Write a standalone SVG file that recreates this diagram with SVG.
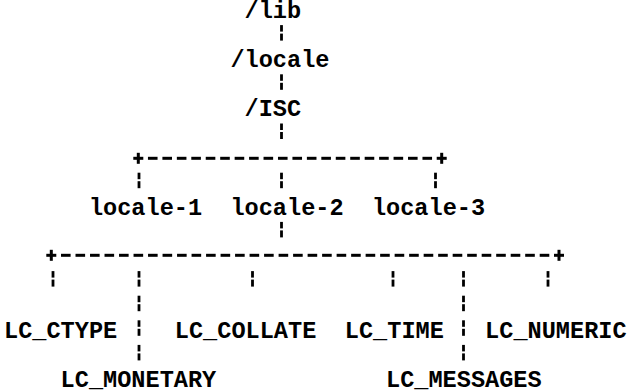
<svg xmlns="http://www.w3.org/2000/svg" width="629" height="390" viewBox="0 0 629 390">
  <style>
    text { font-family: "Liberation Mono", "Courier New", monospace; font-weight: bold; font-size: 23.58px; fill: #000; white-space: pre; }
    .ink { fill: #000; }
  </style>
  <defs>
    <!-- broken vertical bar, origin at the text baseline -->
    <g id="vbar" class="ink">
      <rect x="-1.4" y="-17.5" width="2.8" height="6.5"/>
      <rect x="-1.4" y="-9" width="2.8" height="7"/>
    </g>
    <!-- dash of a horizontal rule, origin at its centre -->
    <rect id="dash" class="ink" x="-4.8" y="-1.5" width="9.6" height="3"/>
    <!-- corner plus, origin at its centre -->
    <g id="plus" class="ink">
      <rect x="-5" y="-1.5" width="10" height="3"/>
      <rect x="-1.5" y="-5.5" width="3" height="11"/>
    </g>
  </defs>
  <rect width="629" height="390" fill="#fff"/>

  <!-- directory nodes -->
  <g id="lib"><text x="244.5" y="18">/lib</text></g>
  <g id="locale"><text x="230.4" y="67.2">/locale</text></g>
  <g id="isc"><text x="244.5" y="116.4">/ISC</text></g>

  <g id="locale-1"><text x="88.9" y="214.8">locale-1</text></g>
  <g id="locale-2"><text x="230.4" y="214.8">locale-2</text></g>
  <g id="locale-3"><text x="371.9" y="214.8">locale-3</text></g>

  <g id="lc-ctype"><text x="4" y="337.8">LC_CTYPE</text></g>
  <g id="lc-collate"><text x="174.8" y="337.8">LC_COLLATE</text></g>
  <g id="lc-time"><text x="344.8" y="337.8">LC_TIME</text></g>
  <g id="lc-numeric"><text x="485.1" y="337.8">LC_NUMERIC</text></g>
  <g id="lc-monetary"><text x="60.6" y="387">LC_MONETARY</text></g>
  <g id="lc-messages"><text x="386" y="387">LC_MESSAGES</text></g>

  <g id="connectors">
    <!-- trunk /lib -> /locale -> /ISC -> split -->
    <use href="#vbar" x="281.5" y="42.6"/>
    <use href="#vbar" x="281.5" y="91.8"/>
    <use href="#vbar" x="281.5" y="141"/>

    <!-- rule over the three locales -->
    <g transform="translate(0,158.3)">
      <use href="#plus" x="138.3"/>
      <use href="#dash" x="152.75"/><use href="#dash" x="167.2"/><use href="#dash" x="181.64"/>
      <use href="#dash" x="196.09"/><use href="#dash" x="210.54"/><use href="#dash" x="224.99"/>
      <use href="#dash" x="239.44"/><use href="#dash" x="253.88"/><use href="#dash" x="268.33"/>
      <use href="#dash" x="282.78"/><use href="#dash" x="297.23"/><use href="#dash" x="311.68"/>
      <use href="#dash" x="326.12"/><use href="#dash" x="340.57"/><use href="#dash" x="355.02"/>
      <use href="#dash" x="369.47"/><use href="#dash" x="383.92"/><use href="#dash" x="398.36"/>
      <use href="#dash" x="412.81"/><use href="#dash" x="427.26"/>
      <use href="#plus" x="441.7"/>
    </g>
    <use href="#vbar" x="139" y="190.2"/>
    <use href="#vbar" x="281.5" y="190.2"/>
    <use href="#vbar" x="435.5" y="190.2"/>

    <!-- locale-2 -> category rule -->
    <use href="#vbar" x="281.5" y="239.4"/>

    <!-- rule over the six categories -->
    <g transform="translate(0,255.3)">
      <use href="#plus" x="51.3"/>
      <use href="#dash" x="65.81"/><use href="#dash" x="80.31"/><use href="#dash" x="94.82"/>
      <use href="#dash" x="109.32"/><use href="#dash" x="123.83"/><use href="#dash" x="138.34"/>
      <use href="#dash" x="152.84"/><use href="#dash" x="167.35"/><use href="#dash" x="181.85"/>
      <use href="#dash" x="196.36"/><use href="#dash" x="210.87"/><use href="#dash" x="225.37"/>
      <use href="#dash" x="239.88"/><use href="#dash" x="254.38"/><use href="#dash" x="268.89"/>
      <use href="#dash" x="283.4"/><use href="#dash" x="297.9"/><use href="#dash" x="312.41"/>
      <use href="#dash" x="326.91"/><use href="#dash" x="341.42"/><use href="#dash" x="355.93"/>
      <use href="#dash" x="370.43"/><use href="#dash" x="384.94"/><use href="#dash" x="399.44"/>
      <use href="#dash" x="413.95"/><use href="#dash" x="428.46"/><use href="#dash" x="442.96"/>
      <use href="#dash" x="457.47"/><use href="#dash" x="471.97"/><use href="#dash" x="486.48"/>
      <use href="#dash" x="500.99"/><use href="#dash" x="515.49"/><use href="#dash" x="530"/>
      <use href="#dash" x="544.5"/>
      <use href="#plus" x="559"/>
    </g>
    <use href="#vbar" x="53" y="288.6"/>
    <use href="#vbar" x="139" y="288.6"/>
    <use href="#vbar" x="252.5" y="288.6"/>
    <use href="#vbar" x="393" y="288.6"/>
    <use href="#vbar" x="463.5" y="288.6"/>
    <use href="#vbar" x="548" y="288.6"/>

    <!-- long drops to LC_MONETARY and LC_MESSAGES -->
    <use href="#vbar" x="139" y="313.2"/>
    <use href="#vbar" x="463.5" y="313.2"/>
    <use href="#vbar" x="139" y="337.8"/>
    <use href="#vbar" x="463.5" y="337.8"/>
    <use href="#vbar" x="139" y="362.4"/>
    <use href="#vbar" x="463.5" y="362.4"/>
  </g>
</svg>
